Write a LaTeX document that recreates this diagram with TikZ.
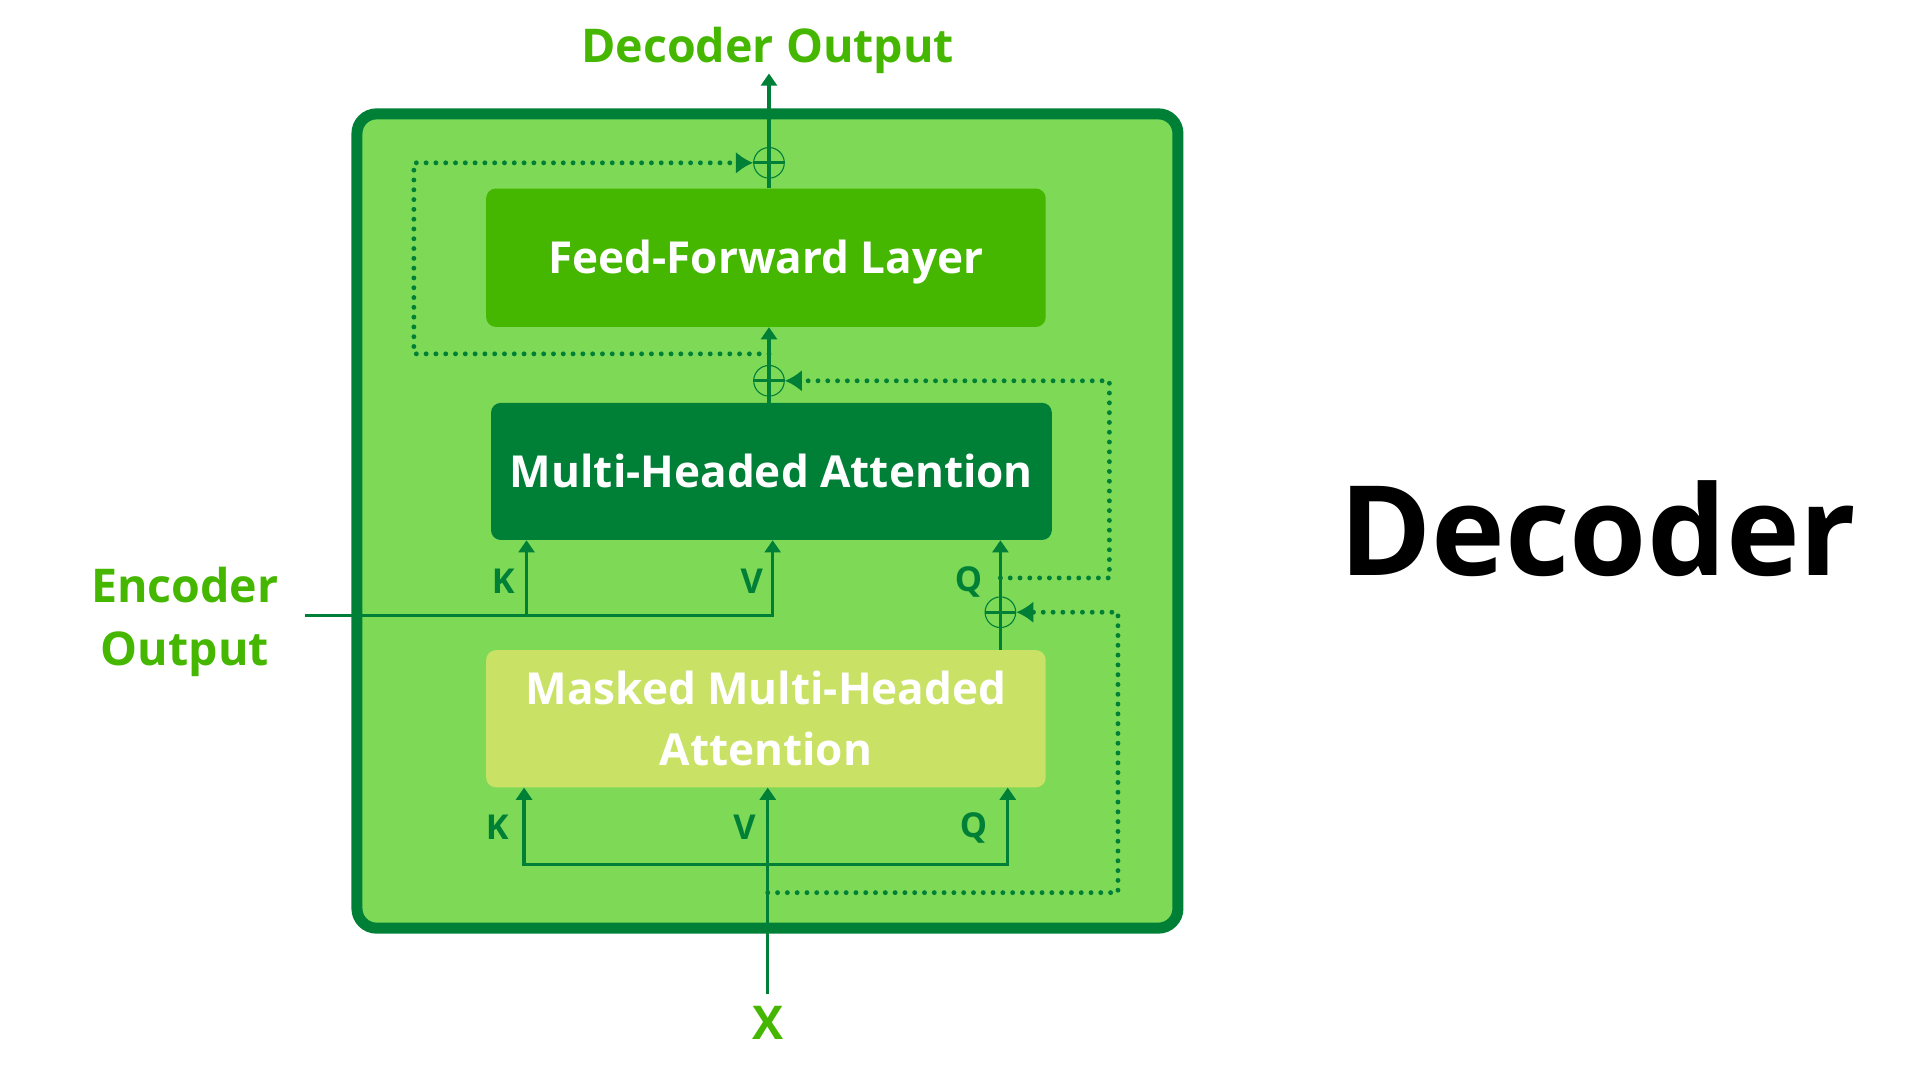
\documentclass[tikz,border=0pt]{standalone}
\usepackage{fontspec}
\setmainfont{Open Sans}
\usetikzlibrary{arrows.meta,positioning,calc}

\definecolor{deepgreen}{HTML}{008037}
\definecolor{leafgreen}{HTML}{7ED957}
\definecolor{grassgreen}{HTML}{45B700}
\definecolor{limegreen}{HTML}{C9E265}

\begin{document}
\begin{tikzpicture}[x=1pt,y=1pt,
  layer/.style={rounded corners=8pt,inner sep=0pt,text=white,align=center,
    font=\fontsize{36}{50}\selectfont\bfseries},
  flow/.style={deepgreen,line width=2.6pt,-{Triangle[width=13pt,length=10pt]}},
  wire/.style={deepgreen,line width=2.6pt},
  resid/.style={deepgreen,line width=4pt,line cap=round,dash pattern=on 0pt off 8pt,
    -{Latex[width=18pt,length=14pt]}},
  addnode/.style={circle,draw=deepgreen,line width=0.9pt,minimum size=25pt,inner sep=0pt},
  kvq/.style={deepgreen,font=\fontsize{28}{28}\selectfont\bfseries},
  caption/.style={grassgreen,font=\fontsize{38}{52}\selectfont\bfseries,align=center}]
\useasboundingbox (0,0) rectangle (1568,882);

% decoder block
\node[draw=deepgreen,fill=leafgreen,line width=9pt,rounded corners=16pt,
  minimum width=670.5pt,minimum height=665pt] (dec) at (626.75,456.5) {};

\node[layer,fill=grassgreen,minimum width=457pt,minimum height=113pt] (ff) at (625.5,671.5) {};
\node[layer,text=white] (fftxt) at (625.5,668) {Feed-Forward Layer};
\node[layer,fill=deepgreen,minimum width=458pt,minimum height=112pt] (mha) at (630,497) {Multi-Headed Attention};
\node[layer,fill=limegreen,minimum width=457pt,minimum height=112pt] (mmha) at (625.5,295) {Masked Multi-Headed\\Attention};

% add points
\node[addnode] (add1) at (628,749) {};
\node[addnode] (add2) at (628,571) {};
\node[addnode] (add3) at (817,382) {};

% main path
\coordinate (xin) at (627,70);
\coordinate (out) at (628,822);
\coordinate (xsplit) at (627,176);
\coordinate (enc) at (249,379);
\draw[flow] (xin) -- (xin |- mmha.south);
\draw[flow] (xsplit) -| (428,0 |- mmha.south);
\draw[flow] (xsplit) -| (823,0 |- mmha.south);
\draw[flow] (add3 |- mmha.north) -- (add3 |- mha.south);
\draw[flow] (enc) -| (631,0 |- mha.south);
\draw[flow] (430,0 |- enc) -- (430,0 |- mha.south);
\draw[flow] (add2 |- mha.north) -- (add2 |- ff.south);
\draw[flow] (add1 |- ff.north) -- (out);
\foreach \a in {add1,add2,add3} {
  \draw[wire] (\a.west) -- (\a.east);
}

% residual connections
\draw[resid] (627,153) -| (913,0 |- add3) -- (add3.east);
\draw[resid] (add3 |- 0,410) -| (906,0 |- add2) -- (add2.east);
\draw[resid] (add2 |- 0,593) -| (338,0 |- add1) -- (add1.west);

% labels
\node[kvq] (k1) at (406,206) {K};
\node[kvq] (v1) at (608,206) {V};
\node[kvq] (q1) at (795,206) {Q};
\node[kvq] (k2) at (411,407) {K};
\node[kvq] (v2) at (614,407) {V};
\node[kvq] (q2) at (791,407) {Q};

\node[caption] (outlbl) at (627,841) {Decoder Output};
\node[caption] (enclbl) at (151,374) {Encoder\\Output};
\node[caption] (xlbl) at (627,47) {X};
\node[font=\fontsize{102}{102}\selectfont\bfseries] (title) at (1305,450) {Decoder};
\end{tikzpicture}
\end{document}
